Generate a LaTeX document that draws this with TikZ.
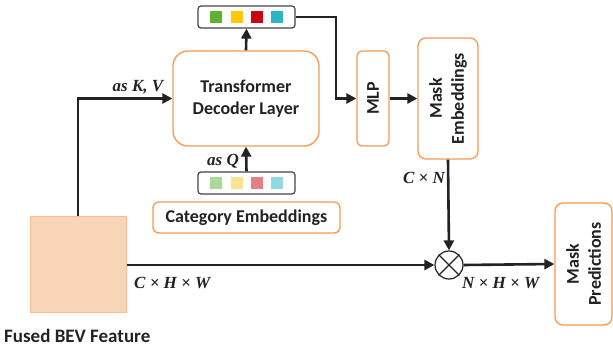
\documentclass[tikz,border=0pt]{standalone}
\usepackage{fontspec}
\setmainfont{Carlito}
\newfontfamily\mathlab{Liberation Serif}
\usetikzlibrary{arrows.meta,calc}

\definecolor{boxorange}{HTML}{F39A55}
\definecolor{bevfill}{HTML}{F8D4B8}
\definecolor{bevdraw}{HTML}{F6BC93}
\definecolor{tokgreen}{HTML}{5DB234}
\definecolor{tokyellow}{HTML}{FFC800}
\definecolor{tokred}{HTML}{CC0011}
\definecolor{tokcyan}{HTML}{2EB4C4}
\definecolor{ltgreen}{HTML}{A9D89A}
\definecolor{ltyellow}{HTML}{FCE394}
\definecolor{ltred}{HTML}{E37F87}
\definecolor{ltcyan}{HTML}{92D8E0}
\definecolor{ink}{HTML}{222222}

\newcommand\boxfont{\fontsize{18}{22}\selectfont\bfseries}

\tikzset{
  orangebox/.style={draw=boxorange, line width=1.3pt, fill=white, align=center,
    font=\boxfont, text=ink, inner sep=0pt},
  tokbox/.style={draw=ink!85, line width=1.2pt, rounded corners=3pt, fill=white,
    minimum width=97pt, minimum height=22pt, inner sep=0pt},
  tok/.style={minimum size=12pt, inner sep=0pt},
  arr/.style={draw=ink, line width=2.6pt, -{Triangle[length=10pt,width=10pt]}},
  rottext/.style={rotate=90, align=center, font=\boxfont, text=ink, inner sep=0pt},
  lab/.style={font=\mathlab\fontsize{17}{19}\selectfont\bfseries\itshape, text=ink, inner sep=0pt}
}

\begin{document}
\begin{tikzpicture}[x=1pt,y=-1pt]
\useasboundingbox (0,0) rectangle (613,347);

% query tokens after decoding
\node[tokbox] (tokTop) at (246.5,17) {};
\node[tok, fill=tokgreen]  (tg) at (216,17) {};
\node[tok, fill=tokyellow] (ty) at (237,17) {};
\node[tok, fill=tokred]    (tr) at (257,17) {};
\node[tok, fill=tokcyan]   (tc) at (277,17) {};

% decoder
\node[orangebox, rounded corners=15pt, minimum width=146pt, minimum height=95pt]
  (dec) at (246,98.5) {Transformer\\Decoder Layer};

% input query tokens
\node[tokbox] (tokBot) at (246.5,183) {};
\node[tok, fill=ltgreen]  (bg) at (216,183) {};
\node[tok, fill=ltyellow] (by) at (237,183) {};
\node[tok, fill=ltred]    (br) at (257,183) {};
\node[tok, fill=ltcyan]   (bc) at (277,183) {};

\node[orangebox, rounded corners=6pt, minimum width=187pt, minimum height=31pt]
  (cat) at (246.5,217.5) {Category Embeddings};

% BEV feature map
\node[draw=bevdraw, fill=bevfill, line width=1pt, minimum size=96pt, inner sep=0pt]
  (bev) at (78,265) {};
\node[anchor=west, font=\fontsize{19}{22}\selectfont\bfseries, text=ink, inner sep=0pt]
  (bevlab) at (4,336) {Fused BEV Feature};

% MLP and mask embeddings
\node[orangebox, rounded corners=5pt, minimum width=32pt, minimum height=95pt]
  (mlp) at (373,98.5) {};
\node[rottext] (mlplab) at (mlp.center) {MLP};
\node[orangebox, rounded corners=8pt, minimum width=60pt, minimum height=121pt]
  (memb) at (448,98.5) {};
\node[rottext] (memblab) at (memb.center) {Mask\\Embeddings};

% product
\node[draw=ink, line width=1.2pt, circle, minimum size=28pt, inner sep=0pt, fill=white] (prod) at (449,265) {};
\draw[ink, line width=1.2pt] (prod.north west) -- (prod.south east) (prod.north east) -- (prod.south west);

% output
\node[orangebox, rounded corners=8pt, minimum width=57pt, minimum height=122pt]
  (mpred) at (583.5,264) {};
\node[rottext] (mpredlab) at (mpred.center) {Mask\\Predictions};

% connectors
\draw[arr] (dec.north) -- (tokTop.south);
\draw[arr] (bev.north) |- (dec.west);
\node[lab, anchor=south] (kv) at (138,94) {as K, V};
\draw[arr] (tokBot.north) -- (dec.south);
\node[lab, anchor=east] (q) at (239,161) {as Q};
\coordinate (turn) at (336,98.5);
\draw[arr] (tokTop.east) -| (turn) -- (mlp.west);
\draw[arr] (mlp.east) -- (memb.west);
\draw[arr] (memb.south) -- (prod.north);
\node[lab, anchor=east] (cn) at (445,178) {C × N};
\draw[arr] (bev.east) -- (prod.west);
\node[lab, anchor=west] (chw) at (134,283) {C × H × W};
\draw[arr] (prod.east) -- (mpred.west);
\node[lab, anchor=west] (nhw) at (462,283) {N × H × W};
\end{tikzpicture}
\end{document}
